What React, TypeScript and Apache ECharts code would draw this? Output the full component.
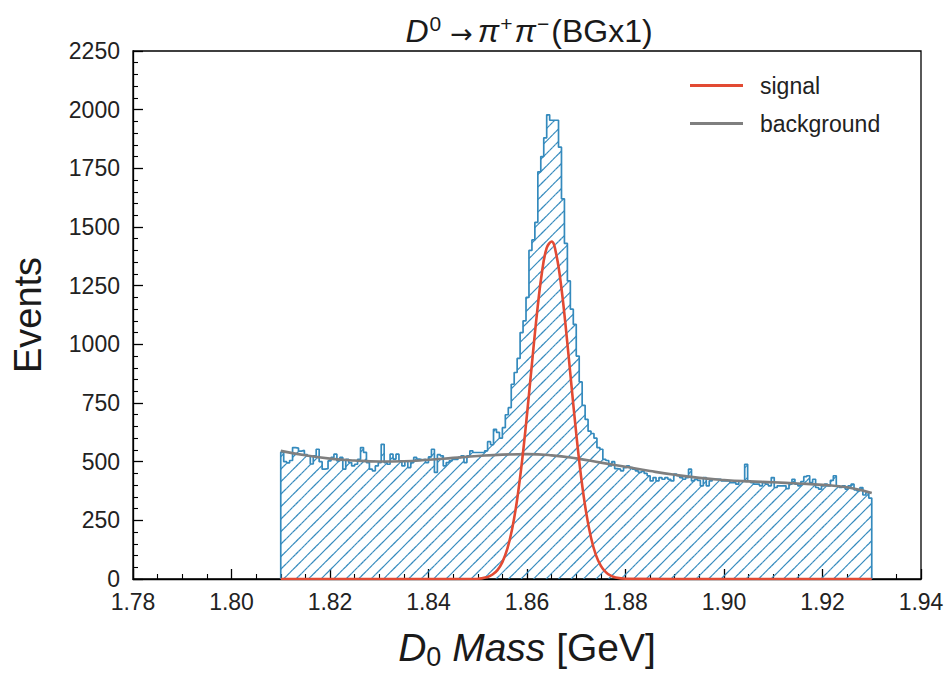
import React, { useEffect, useRef } from "react";
import * as echarts from "echarts";

// Histogram: 200 equal bins between HIST_LO and HIST_HI (GeV), counts
const HIST_LO = 1.81;
const HIST_HI = 1.93;
const HIST_COUNTS = [
  540, 500, 495, 505, 560, 558, 545, 548, 530, 525,
  490, 525, 553, 500, 468, 470, 503, 518, 532, 503,
  518, 468, 510, 496, 482, 489, 510, 560, 540, 496,
  468, 461, 482, 496, 574, 496, 489, 532, 511, 532,
  503, 482, 503, 475, 496, 518, 511, 508, 510, 496,
  520, 553, 454, 530, 525, 482, 496, 503, 510, 510,
  518, 525, 496, 525, 546, 539, 539, 539, 539, 546,
  585, 572, 638, 625, 600, 645, 700, 730, 830, 880,
  940, 1050, 1100, 1200, 1400, 1445, 1520, 1735, 1800, 1880,
  1978, 1955, 1955, 1955, 1840, 1620, 1430, 1270, 1150, 1085,
  950, 840, 740, 680, 630, 620, 600, 560, 553, 510,
  505, 482, 500, 470, 468, 461, 475, 482, 475, 468,
  461, 454, 458, 450, 440, 418, 432, 418, 432, 425,
  432, 425, 418, 447, 440, 432, 425, 432, 468, 418,
  425, 420, 397, 432, 397, 418, 425, 425, 425, 418,
  418, 418, 411, 411, 404, 418, 418, 489, 418, 411,
  404, 404, 397, 411, 404, 397, 432, 390, 397, 397,
  397, 385, 404, 425, 404, 397, 415, 436, 440, 411,
  425, 390, 383, 397, 404, 397, 420, 440, 397, 390,
  397, 383, 397, 404, 380, 375, 390, 358, 368, 345,
];

// Signal fit curve (mass GeV, events)
const SIGNAL_X = [
  1.81, 1.84, 1.85, 1.852, 1.853, 1.854, 1.855, 1.856, 1.857, 1.858, 1.859,
  1.86, 1.861, 1.862, 1.863, 1.864, 1.865, 1.866, 1.867, 1.868, 1.869,
  1.87, 1.871, 1.872, 1.873, 1.874, 1.875, 1.876, 1.877, 1.878, 1.88, 1.9, 1.93,
];
const SIGNAL_Y = [
  0, 0, 1, 9, 19, 38, 72, 128, 215, 339, 503,
  701, 917, 1127, 1301, 1411, 1438, 1377, 1238, 1046, 830,
  619, 433, 285, 176, 102, 56, 29, 14, 6, 1, 0, 0,
];

// Background fit curve (mass GeV, events)
const BKG_X = [
  1.81, 1.815, 1.82, 1.825, 1.83, 1.835, 1.84, 1.845, 1.85, 1.855, 1.86, 1.865,
  1.87, 1.875, 1.88, 1.885, 1.89, 1.895, 1.9, 1.905, 1.91, 1.915, 1.92, 1.925, 1.93,
];
const BKG_Y = [
  546, 527, 513, 505, 501, 502, 508, 516, 524, 530, 532, 527,
  514, 496, 478, 460, 444, 431, 422, 416, 412, 407, 401, 391, 366,
];

const BLUE = "#348ABD";
const RED = "#E24A33";
const GREY = "#7f7f7f";
const FONT = "Liberation Sans";
const TXT = "#1a1a1a";

export default function App() {
  const ref = useRef<HTMLDivElement>(null);

  useEffect(() => {
    if (!ref.current) return;
    const chart = echarts.init(ref.current, undefined, { renderer: "svg" });

    const n = HIST_COUNTS.length;
    const w = (HIST_HI - HIST_LO) / n;
    const bins = HIST_COUNTS.map((v, i) => [HIST_LO + i * w, HIST_LO + (i + 1) * w, v]);
    const stepData: number[][] = [[HIST_LO, 0]];
    HIST_COUNTS.forEach((v, i) => stepData.push([HIST_LO + i * w, v]));
    stepData.push([HIST_HI, HIST_COUNTS[n - 1]]);
    stepData.push([HIST_HI, 0]);

    const HATCH = 12.5;

    const option: any = {
      animation: false,
      backgroundColor: "#ffffff",
      grid: {
        left: 133,
        right: 30,
        top: 51,
        bottom: 95,
        show: true,
        borderColor: "#000",
        borderWidth: 1.3,
        backgroundColor: "#fff",
      },
      xAxis: {
        type: "value",
        min: 1.78,
        max: 1.94,
        interval: 0.02,
        name: "{i|D}{sub|0}{n| }{i|Mass}{n| [GeV]}",
        nameLocation: "middle",
        nameGap: 45,
        nameTextStyle: {
          fontFamily: FONT,
          fontSize: 39,
          color: TXT,
          rich: {
            i: { fontFamily: FONT, fontStyle: "italic", fontSize: 39, lineHeight: 46, verticalAlign: "middle", color: TXT },
            n: { fontFamily: FONT, fontSize: 39, lineHeight: 46, verticalAlign: "middle", color: TXT },
            sub: { fontFamily: FONT, fontSize: 27, lineHeight: 24, verticalAlign: "bottom", color: TXT },
          },
        },
        axisLine: { show: true, lineStyle: { color: "#000", width: 1.3 } },
        axisTick: { show: true, inside: true, length: 10, lineStyle: { color: "#000", width: 1.3 } },
        minorTick: { show: true, splitNumber: 4, length: 5, lineStyle: { color: "#000", width: 1.1 } },
        splitLine: { show: false },
        axisLabel: {
          fontFamily: FONT,
          fontSize: 23,
          color: "#222",
          margin: 11,
          formatter: (v: number) => v.toFixed(2),
        },
      },
      yAxis: {
        type: "value",
        min: 0,
        max: 2250,
        interval: 250,
        name: "Events",
        nameLocation: "middle",
        nameGap: 86,
        nameTextStyle: { fontFamily: FONT, fontSize: 38, color: TXT },
        axisLine: { show: true, lineStyle: { color: "#000", width: 1.3 } },
        axisTick: { show: true, inside: true, length: 10, lineStyle: { color: "#000", width: 1.3 } },
        minorTick: { show: true, splitNumber: 5, length: 5, lineStyle: { color: "#000", width: 1.1 } },
        splitLine: { show: false },
        axisLabel: {
          fontFamily: FONT,
          fontSize: 23,
          color: "#222",
          margin: 13,
          formatter: (v: number) => String(v),
        },
      },
      legend: {
        data: ["signal", "background"],
        orient: "vertical",
        left: 685,
        top: 69,
        icon: "rect",
        itemWidth: 53,
        itemHeight: 3,
        itemGap: 15,
        textStyle: { fontFamily: FONT, fontSize: 23, color: "#222", padding: [0, 0, 0, 12] },
      },
      graphic: [
        {
          type: "text",
          x: 529,
          y: 30,
          silent: true,
          style: {
            text: "{i|D}{sup|0}{a|→}{i|π}{sup|+}{i|π}{sup|−}{n|(BGx1)}",
            align: "center",
            verticalAlign: "middle",
            fill: TXT,
            font: `32px ${FONT}`,
            rich: {
              i: { fontFamily: FONT, fontStyle: "italic", fontSize: 32, lineHeight: 34, verticalAlign: "bottom", fill: TXT },
              n: { fontFamily: FONT, fontSize: 32, lineHeight: 34, verticalAlign: "bottom", fill: TXT },
              a: { fontFamily: "DejaVu Sans", fontSize: 27, lineHeight: 32, verticalAlign: "bottom", fill: TXT, padding: [0, 5, 0, 7] },
              sup: { fontFamily: FONT, fontSize: 21, lineHeight: 21, verticalAlign: "top", fill: TXT, padding: [0, 2, 0, 1] },
            },
          },
        },
      ],
      series: [
        {
          type: "custom",
          name: "hatch",
          silent: true,
          clip: true,
          z: 1,
          data: bins,
          encode: { x: [0, 1], y: 2 },
          renderItem: (params: any, api: any) => {
            const x0 = api.value(0);
            const x1 = api.value(1);
            const v = api.value(2);
            const pTop = api.coord([x0, v]);
            const pBot = api.coord([x1, 0]);
            const xa = pTop[0];
            const xb = pBot[0];
            const yt = pTop[1];
            const yb = pBot[1];
            const children: any[] = [];
            const kStart = Math.ceil((xa + yt) / HATCH);
            const kEnd = Math.floor((xb + yb) / HATCH);
            for (let k = kStart; k <= kEnd; k++) {
              const c = k * HATCH;
              const xs = Math.max(xa, c - yb);
              const xe = Math.min(xb, c - yt);
              if (xe > xs) {
                children.push({
                  type: "line",
                  shape: { x1: xs, y1: c - xs, x2: xe, y2: c - xe },
                  style: { stroke: BLUE, lineWidth: 1.2 },
                });
              }
            }
            return { type: "group", children };
          },
        },
        {
          type: "line",
          name: "hist",
          step: "end",
          data: stepData,
          symbol: "none",
          z: 2,
          lineStyle: { color: BLUE, width: 1.7 },
          silent: true,
        },
        {
          type: "line",
          name: "background",
          data: BKG_X.map((x, i) => [x, BKG_Y[i]]),
          smooth: true,
          symbol: "none",
          z: 3,
          color: GREY,
          lineStyle: { color: GREY, width: 2.6 },
          silent: true,
        },
        {
          type: "line",
          name: "signal",
          data: SIGNAL_X.map((x, i) => [x, SIGNAL_Y[i]]),
          smooth: 0.4,
          symbol: "none",
          z: 4,
          color: RED,
          lineStyle: { color: RED, width: 2.6 },
          silent: true,
        },
      ],
    };

    chart.setOption(option);
    return () => chart.dispose();
  }, []);

  return (
    <div
      ref={ref}
      style={{ position: "absolute", left: 0, top: 0, width: 951, height: 675, background: "#fff" }}
    />
  );
}
